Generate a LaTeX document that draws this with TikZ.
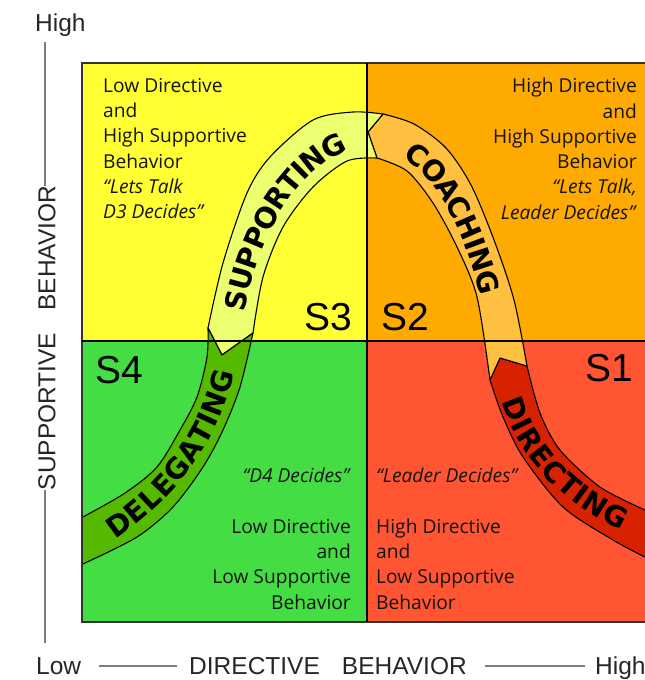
\documentclass[tikz,border=0pt]{standalone}
\usepackage{fontspec}
\setmainfont{Open Sans}
\newfontfamily\axisfont{Liberation Sans}
\newfontfamily\ribfont{DejaVu Sans}
\usetikzlibrary{decorations.text}

\definecolor{qyellow}{RGB}{255,255,51}
\definecolor{qorange}{RGB}{255,170,0}
\definecolor{qgreen}{RGB}{68,221,68}
\definecolor{qred}{RGB}{255,85,51}
\definecolor{rsupport}{RGB}{236,255,110}
\definecolor{rcoach}{RGB}{255,192,64}
\definecolor{rdelegate}{RGB}{85,185,0}
\definecolor{rdirect}{RGB}{214,34,0}
\definecolor{axisgray}{RGB}{125,125,125}

\newcommand\quadfont{\fontsize{19.2}{25.3}\selectfont}
\newcommand\ribstyle{\ribfont\bfseries\fontsize{28.5}{28.5}\selectfont}

\tikzset{
  qtext/.style={font=\quadfont, inner sep=0pt, text=black!92},
  axislabel/.style={font=\axisfont\fontsize{24.5}{24.5}\selectfont, inner sep=0pt, text=black!85},
  slabel/.style={font=\axisfont\fontsize{39}{39}\selectfont, inner sep=0pt},
  axisline/.style={draw=axisgray, line width=1.8pt},
  ribbon/.style={draw=black, line width=1.1pt, line join=round},
  ribtext/.style={decorate, decoration={text along path, text align=center, raise=-10pt, text={|\ribstyle|#1}}}
}

\begin{document}
\begin{tikzpicture}[x=1pt,y=-1pt]
\useasboundingbox (0,0) rectangle (645,680);

% quadrant fills
\fill[qyellow] (82,63) rectangle (367,341);
\fill[qorange] (367,63) rectangle (648,341);
\fill[qgreen]  (82,341) rectangle (367,622);
\fill[qred]    (367,341) rectangle (648,622);

% corner points shared by neighbouring ribbons
\coordinate (ra) at (527,366); \coordinate (pa) at (500,358); \coordinate (la) at (490,380);
\coordinate (tb) at (383,114); \coordinate (pb) at (368,132); \coordinate (bb) at (377,158);
\coordinate (lc) at (208,328); \coordinate (pc) at (222,355); \coordinate (rc) at (253,333);

\begin{scope}
\clip (82,63) rectangle (645,622);
% DIRECTING
\filldraw[ribbon, fill=rdirect] (660,505) -- plot[smooth] coordinates {(645,510) (600,487) (560,450) (540,413) (527,366)}
  -- (pa) -- (la) -- plot[smooth] coordinates {(490,380) (503,417) (523,457) (563,507) (613,540) (645,557)}
  -- (660,565) -- cycle;
% COACHING
\filldraw[ribbon, fill=rcoach] (ra) -- plot[smooth] coordinates {(527,366) (514,300) (494,240) (471,185) (446,148) (414,124) (383,114)}
  -- (pb) -- (bb) -- plot[smooth] coordinates {(377,158) (407,171) (433,203) (457,247) (477,297) (490,380)}
  -- (pa) -- cycle;
% SUPPORTING
\filldraw[ribbon, fill=rsupport] (tb) -- plot[smooth] coordinates {(383,114) (353,112) (313,120) (270,157) (247,193) (223,263) (208,328)}
  -- (pc) -- (rc) -- plot[smooth] coordinates {(253,333) (263,277) (283,227) (313,187) (347,161) (377,158)}
  -- (pb) -- cycle;
% DELEGATING
\filldraw[ribbon, fill=rdelegate] (lc) -- plot[smooth] coordinates {(208,328) (207,357) (197,397) (180,430) (157,467) (125,493) (83,517) (70,524)}
  -- (70,570) -- plot[smooth] coordinates {(85,563) (137,537) (173,507) (203,467) (223,430) (240,387) (253,333)}
  -- (pc) -- cycle;

% ribbon captions
\path[ribtext={SUPPORTING}] (231,345) .. controls (240,230) and (300,135) .. (378,136);
\path[ribtext={COACHING}] (380,136) .. controls (440,150) and (480,230) .. (496,325);
\path[ribtext={DIRECTING}] (506,378) .. controls (520,450) and (570,500) .. (645,530);
\path[ribtext={DELEGATING}] (88,545) .. controls (180,490) and (220,420) .. (229,345);
\end{scope}

% grid lines
\draw[black!80, line width=1.6pt] (648,63) -- (82,63) -- (82,622) -- (648,622);
\draw[black, line width=2pt] (367,63) -- (367,622);
\draw[black, line width=2pt] (82,341) -- (648,341);

% style labels
\node[slabel, anchor=base east] (s3) at (352,330) {S3};
\node[slabel, anchor=base west] (s2) at (381,330) {S2};
\node[slabel, anchor=base west] (s4) at (95,383) {S4};
\node[slabel, anchor=base east] (s1) at (633,381) {S1};

% quadrant descriptions
\node[qtext, anchor=north west, align=left] (q3) at (103,78)
  {Low Directive\\and\\High Supportive\\Behavior\\\textit{“Lets Talk}\\\textit{D3 Decides”}};
\node[qtext, anchor=north east, align=right] (q2) at (637,78)
  {High Directive\\and\\High Supportive\\Behavior\\\textit{“Lets Talk,}\\\textit{Leader Decides”}};
\node[qtext, anchor=north east, align=right] (q4) at (351,468)
  {\textit{“D4 Decides”}\\[25.3pt]Low Directive\\and\\Low Supportive\\Behavior};
\node[qtext, anchor=north west, align=left] (q1) at (376,468)
  {\textit{“Leader Decides”}\\[25.3pt]High Directive\\and\\Low Supportive\\Behavior};

% axes
\node[axislabel, anchor=base west] (yhigh) at (35,31) {High};
\node[axislabel, rotate=90] (ylab) at (47,338) {SUPPORTIVE\hspace{0.9em}BEHAVIOR};
\coordinate (ytop) at (45,42);
\coordinate (ybot) at (45,643);
\draw[axisline] (ytop) -- ([xshift=-2pt]ylab.east);
\draw[axisline] ([xshift=-2pt]ylab.west) -- (ybot);

\node[axislabel, anchor=base west] (xlow) at (36,674) {Low};
\node[axislabel, anchor=base] (xlab) at (328,674) {DIRECTIVE\hspace{0.9em}BEHAVIOR};
\node[axislabel, anchor=base west] (xhigh) at (595,674) {High};
\draw[axisline] ([xshift=-12pt,yshift=8pt]xlab.base west) -- ([xshift=18pt,yshift=8pt]xlow.base east);
\draw[axisline] ([xshift=18pt,yshift=8pt]xlab.base east) -- ([xshift=-10pt,yshift=8pt]xhigh.base west);
\end{tikzpicture}
\end{document}
